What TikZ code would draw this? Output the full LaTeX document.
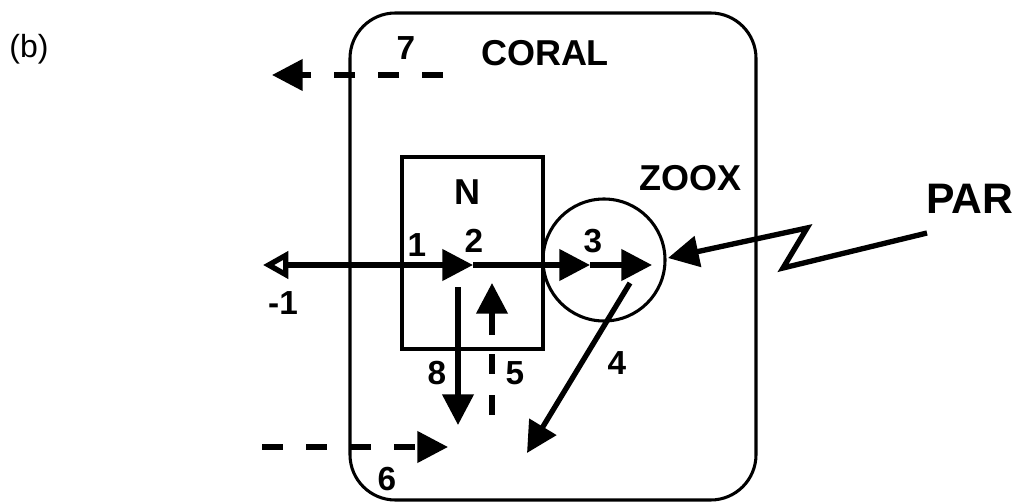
\documentclass[tikz,border=0pt]{standalone}
\usepackage{fontspec}
\setmainfont{Liberation Sans}
\usetikzlibrary{arrows.meta}
\begin{document}
\begin{tikzpicture}[x=0.75pt,y=-0.75pt,
  boxline/.style={draw, line width=2.3pt, inner sep=0pt},
  arr/.style={line width=4pt, -{Triangle[length=23pt,width=23pt]}},
  dasharr/.style={arr, dash pattern=on 16pt off 17pt},
  lab/.style={font=\fontsize{25}{29}\selectfont\bfseries, inner sep=0pt},
  biglab/.style={font=\fontsize{27}{32}\selectfont\bfseries, inner sep=0pt}]
\useasboundingbox (0,0) rectangle (1020,502);
% main shapes
\node[boxline, rounded corners=34pt, minimum width=304.5pt, minimum height=365.25pt] (coral) at (553,256.5) {};
\node[boxline, minimum width=105.75pt, minimum height=144pt] (nbox) at (472.5,253) {};
\node[boxline, circle, minimum size=91.5pt] (zoox) at (604,260) {};
% labels
\node[font=\fontsize{24}{28}\selectfont, inner sep=0pt] (b) at (29,49) {(b)};
\node[biglab] (coralt) at (545,53) {CORAL};
\node[biglab] (zooxt) at (690,178) {ZOOX};
\node[biglab] (nt) at (467,192) {N};
\node[font=\fontsize{32}{38}\selectfont\bfseries, inner sep=0pt] (part) at (970,199) {PAR};
\node[lab] (l7) at (406,48) {7};
\node[lab] (l1) at (417,245) {1};
\node[lab] (l2) at (474,241) {2};
\node[lab] (l3) at (593,241) {3};
\node[lab] (lm1) at (283,303) {-1};
\node[lab] (l8) at (437,373) {8};
\node[lab] (l5) at (515,373) {5};
\node[lab] (l4) at (617,363) {4};
\node[lab] (l6) at (387,479) {6};
% coordinates for free ends
\coordinate (m0) at (263,265);
\coordinate (t2) at (473,265);
\coordinate (t3) at (590,265);
\coordinate (t4) at (652,265);
\coordinate (s8) at (458,287);
\coordinate (e8) at (458,425);
\coordinate (s5) at (492,415);
\coordinate (k5) at (492,335);
\coordinate (e5) at (492,283);
\coordinate (s4) at (630,283);
\coordinate (e4) at (527,453);
\coordinate (s6) at (262,447);
\coordinate (e6) at (448,447);
\coordinate (s7) at (443,75);
\coordinate (e7) at (272,75);
\coordinate (p0) at (927,233);
\coordinate (z1) at (783,268);
\coordinate (z2) at (807,228);
\coordinate (pe) at (668,258);
% connectors
\draw[arr, {Triangle[open,length=19pt,width=20pt]}-{Triangle[length=23pt,width=23pt]}] (m0) -- (t2);
\draw[arr] (t2) -- (t3);
\draw[arr] (t3) -- (t4);
\draw[arr] (s8) -- (e8);
\draw[line width=4pt, dash pattern=on 15pt off 16pt] (s5) -- (k5);
\draw[arr] (k5) -- (e5);
\draw[arr] (s4) -- (e4);
\draw[dasharr] (s6) -- (e6);
\draw[dasharr] (s7) -- (e7);
\draw[arr, line join=miter] (p0) -- (z1) -- (z2) -- (pe);
\end{tikzpicture}
\end{document}
